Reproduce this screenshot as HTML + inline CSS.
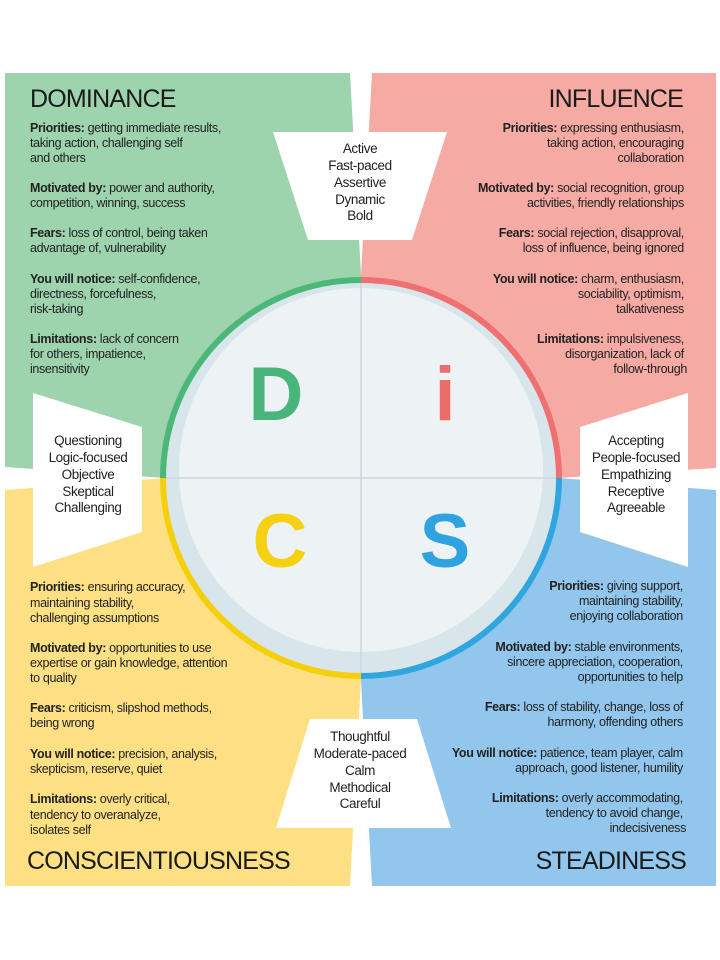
<!DOCTYPE html>
<html><head><meta charset="utf-8"><style>
html,body{margin:0;padding:0;background:#fff;}
svg{display:block;}
.b{font-family:"Liberation Sans",sans-serif;font-size:12.5px;letter-spacing:-0.35px;fill:#222;}
.b tspan.k{font-weight:bold;}
.h{font-family:"Liberation Sans",sans-serif;font-size:25px;letter-spacing:-0.8px;fill:#1a1a1a;}
.t{font-family:"Liberation Sans",sans-serif;font-size:13.5px;letter-spacing:-0.4px;fill:#222;text-anchor:middle;}
.L{font-family:"Liberation Sans",sans-serif;font-weight:bold;font-size:76px;text-anchor:middle;}
</style></head><body>
<svg width="720" height="960" viewBox="0 0 720 960" xmlns="http://www.w3.org/2000/svg">
<rect width="720" height="960" fill="#fff"/>
<polygon points="5,73 350,73 361,275 361,478 165,478 5,467" fill="#9dd3ad"/>
<polygon points="372,73 716,73 716,468 558,478 361,478 361,275" fill="#f6aaa4"/>
<polygon points="5,490 165,478 361,478 361,680 350,886 5,886" fill="#fde084"/>
<polygon points="716,490 558,478 361,478 361,680 372,886 716,886" fill="#92c6ec"/>
<circle cx="361" cy="478" r="198" fill="#d8e5eb"/>
<circle cx="361" cy="470" r="182" fill="#edf2f5"/>
<line x1="163" y1="478" x2="559" y2="478" stroke="#c9d8df" stroke-width="1.5"/>
<line x1="361" y1="280" x2="361" y2="676" stroke="#c9d8df" stroke-width="1.5"/>
<g fill="none" stroke-width="6">
<path d="M361,280 A198,198 0 0 0 163,478" stroke="#4bb87a"/>
<path d="M361,280 A198,198 0 0 1 559,478" stroke="#ef7070"/>
<path d="M163,478 A198,198 0 0 0 361,676" stroke="#f5cf0c"/>
<path d="M559,478 A198,198 0 0 1 361,676" stroke="#2fa6e0"/>
</g>
<text class="L" x="276" y="420" fill="#48b57a">D</text>
<text class="L" x="445" y="420" fill="#ec6c6c">i</text>
<text class="L" x="280" y="567" fill="#f6d012">C</text>
<text class="L" x="445" y="567" fill="#2ea3df">S</text>
<polygon points="273,132 447,132 412,240 308,240" fill="#fff"/>
<polygon points="33,393 142,427 142,532 33,567" fill="#fff"/>
<polygon points="688,393 580,427 580,532 688,567" fill="#fff"/>
<polygon points="310,719 417,719 451,828 276,828" fill="#fff"/>
<text class="t"><tspan x="360" y="153">Active</tspan><tspan x="360" y="170">Fast-paced</tspan><tspan x="360" y="187">Assertive</tspan><tspan x="360" y="204">Dynamic</tspan><tspan x="360" y="220">Bold</tspan></text>
<text class="t"><tspan x="88" y="445">Questioning</tspan><tspan x="88" y="462">Logic-focused</tspan><tspan x="88" y="479">Objective</tspan><tspan x="88" y="496">Skeptical</tspan><tspan x="88" y="512">Challenging</tspan></text>
<text class="t"><tspan x="636" y="445">Accepting</tspan><tspan x="636" y="462">People-focused</tspan><tspan x="636" y="479">Empathizing</tspan><tspan x="636" y="496">Receptive</tspan><tspan x="636" y="512">Agreeable</tspan></text>
<text class="t"><tspan x="360" y="741">Thoughtful</tspan><tspan x="360" y="758">Moderate-paced</tspan><tspan x="360" y="775">Calm</tspan><tspan x="360" y="792">Methodical</tspan><tspan x="360" y="808">Careful</tspan></text>
<text class="h" x="30" y="107">DOMINANCE</text>
<text class="h" x="683" y="107" text-anchor="end">INFLUENCE</text>
<text class="h" x="27" y="869">CONSCIENTIOUSNESS</text>
<text class="h" x="686" y="869" text-anchor="end">STEADINESS</text>
<text class="b">
<tspan x="30" y="132"><tspan class="k">Priorities:</tspan> getting immediate results,</tspan>
<tspan x="30" y="147">taking action, challenging self</tspan>
<tspan x="30" y="162">and others</tspan>
<tspan x="30" y="192"><tspan class="k">Motivated by:</tspan> power and authority,</tspan>
<tspan x="30" y="207">competition, winning, success</tspan>
<tspan x="30" y="237"><tspan class="k">Fears:</tspan> loss of control, being taken</tspan>
<tspan x="30" y="252">advantage of, vulnerability</tspan>
<tspan x="30" y="283"><tspan class="k">You will notice:</tspan> self-confidence,</tspan>
<tspan x="30" y="298">directness, forcefulness,</tspan>
<tspan x="30" y="313">risk-taking</tspan>
<tspan x="30" y="343"><tspan class="k">Limitations:</tspan> lack of concern</tspan>
<tspan x="30" y="358">for others, impatience,</tspan>
<tspan x="30" y="373">insensitivity</tspan>
</text>
<text class="b" text-anchor="end">
<tspan x="687" y="132"><tspan class="k">Priorities:</tspan> expressing enthusiasm,</tspan>
<tspan x="687" y="147">taking action, encouraging</tspan>
<tspan x="687" y="162">collaboration</tspan>
<tspan x="687" y="192"><tspan class="k">Motivated by:</tspan> social recognition, group</tspan>
<tspan x="687" y="207">activities, friendly relationships</tspan>
<tspan x="687" y="237"><tspan class="k">Fears:</tspan> social rejection, disapproval,</tspan>
<tspan x="687" y="252">loss of influence, being ignored</tspan>
<tspan x="687" y="283"><tspan class="k">You will notice:</tspan> charm, enthusiasm,</tspan>
<tspan x="687" y="298">sociability, optimism,</tspan>
<tspan x="687" y="313">talkativeness</tspan>
<tspan x="687" y="343"><tspan class="k">Limitations:</tspan> impulsiveness,</tspan>
<tspan x="687" y="358">disorganization, lack of</tspan>
<tspan x="687" y="373">follow-through</tspan>
</text>
<text class="b">
<tspan x="30" y="591"><tspan class="k">Priorities:</tspan> ensuring accuracy,</tspan>
<tspan x="30" y="607">maintaining stability,</tspan>
<tspan x="30" y="622">challenging assumptions</tspan>
<tspan x="30" y="652"><tspan class="k">Motivated by:</tspan> opportunities to use</tspan>
<tspan x="30" y="667">expertise or gain knowledge, attention</tspan>
<tspan x="30" y="682">to quality</tspan>
<tspan x="30" y="712"><tspan class="k">Fears:</tspan> criticism, slipshod methods,</tspan>
<tspan x="30" y="727">being wrong</tspan>
<tspan x="30" y="758"><tspan class="k">You will notice:</tspan> precision, analysis,</tspan>
<tspan x="30" y="773">skepticism, reserve, quiet</tspan>
<tspan x="30" y="803"><tspan class="k">Limitations:</tspan> overly critical,</tspan>
<tspan x="30" y="819">tendency to overanalyze,</tspan>
<tspan x="30" y="834">isolates self</tspan>
</text>
<text class="b" text-anchor="end">
<tspan x="686" y="590"><tspan class="k">Priorities:</tspan> giving support,</tspan>
<tspan x="686" y="605">maintaining stability,</tspan>
<tspan x="686" y="620">enjoying collaboration</tspan>
<tspan x="686" y="651"><tspan class="k">Motivated by:</tspan> stable environments,</tspan>
<tspan x="686" y="666">sincere appreciation, cooperation,</tspan>
<tspan x="686" y="681">opportunities to help</tspan>
<tspan x="686" y="711"><tspan class="k">Fears:</tspan> loss of stability, change, loss of</tspan>
<tspan x="686" y="726">harmony, offending others</tspan>
<tspan x="686" y="757"><tspan class="k">You will notice:</tspan> patience, team player, calm</tspan>
<tspan x="686" y="772">approach, good listener, humility</tspan>
<tspan x="686" y="802"><tspan class="k">Limitations:</tspan> overly accommodating,</tspan>
<tspan x="686" y="817">tendency to avoid change,</tspan>
<tspan x="686" y="832">indecisiveness</tspan>
</text>
</svg>
</body></html>
